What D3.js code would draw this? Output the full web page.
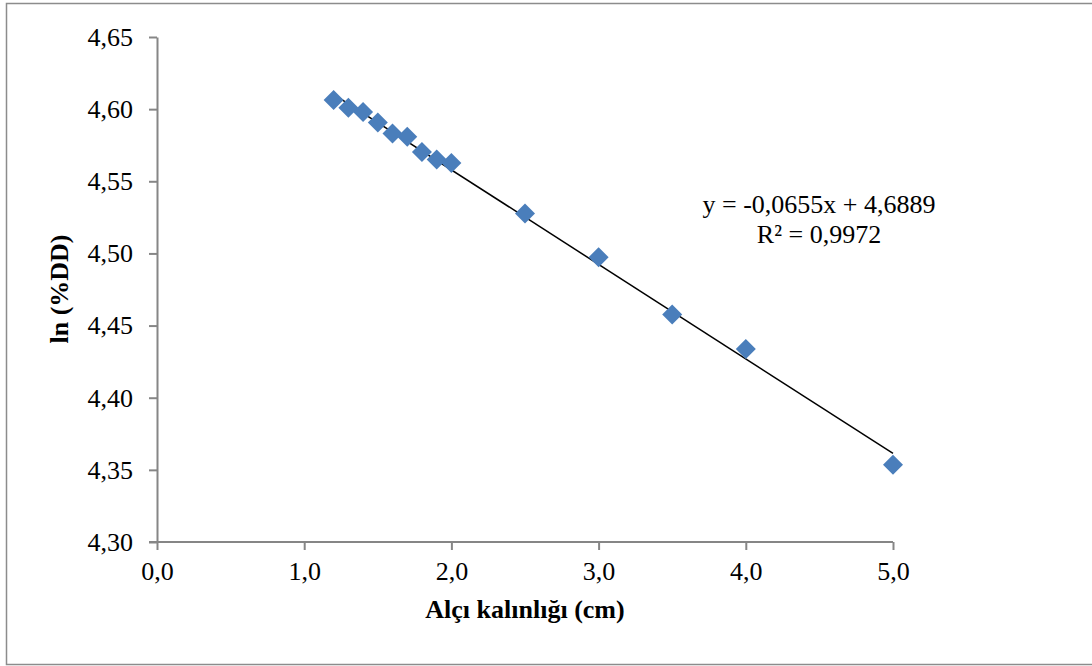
<!DOCTYPE html>
<html>
<head>
<meta charset="utf-8">
<script src="https://cdn.jsdelivr.net/npm/d3@7"></script>
<style>
  body { margin: 0; background: #fff; }
</style>
</head>
<body>
<svg width="1092" height="666"></svg>
<script>
// data
var thickness = [1.2, 1.3, 1.4, 1.5, 1.6, 1.7, 1.8, 1.9, 2.0, 2.5, 3.0, 3.5, 4.0, 5.0];
var lnDD = [4.6063, 4.6009, 4.5981, 4.5908, 4.5831, 4.5808, 4.5703, 4.5651, 4.5627,
            4.5276, 4.4974, 4.4576, 4.4338, 4.3535];
var xTicks = [0, 1, 2, 3, 4, 5];
var yTicks = [4.30, 4.35, 4.40, 4.45, 4.50, 4.55, 4.60, 4.65];
var slope = -0.0655, intercept = 4.6889, r2 = 0.9972;

var serif = '"Liberation Serif", "Times New Roman", serif';
var svg = d3.select("svg");

// outer chart border
svg.append("rect")
  .attr("x", 6.5).attr("y", 3.5)
  .attr("width", 1100).attr("height", 661)
  .attr("fill", "none")
  .attr("stroke", "#8c8c8c")
  .attr("stroke-width", 1.5);

var xScale = d3.scaleLinear().domain([0, 5]).range([157, 893]);
var yScale = d3.scaleLinear().domain([4.30, 4.65]).range([542, 37]);

var comma = function (f) { return function (d) { return d3.format(f)(d).replace(".", ","); }; };

var xAxis = svg.append("g")
  .attr("transform", "translate(0," + yScale(4.30) + ")")
  .call(d3.axisBottom(xScale).tickValues(xTicks).tickFormat(comma(".1f")).tickSize(8).tickSizeOuter(0).tickPadding(12));

var yAxis = svg.append("g")
  .attr("transform", "translate(" + xScale(0) + ",0)")
  .call(d3.axisLeft(yScale).tickValues(yTicks).tickFormat(comma(".2f")).tickSize(8).tickSizeOuter(0).tickPadding(16));

svg.selectAll(".tick text")
  .style("font-family", serif)
  .style("font-size", "26px")
  .attr("fill", "#000");
svg.selectAll(".domain, .tick line").attr("stroke", "#868686").attr("stroke-width", 2);
xAxis.select(".domain").attr("d", "M" + (xScale(0) - 8) + ",0H" + xScale(5));

// trendline over data range
var x0 = d3.min(thickness), x1 = d3.max(thickness);
svg.append("line")
  .attr("x1", xScale(x0)).attr("y1", yScale(slope * x0 + intercept))
  .attr("x2", xScale(x1)).attr("y2", yScale(slope * x1 + intercept))
  .attr("stroke", "#000")
  .attr("stroke-width", 1.5);

// diamond markers
svg.selectAll("path.pt")
  .data(thickness)
  .enter()
  .append("path")
  .attr("class", "pt")
  .attr("d", "M0,-10L10,0L0,10L-10,0Z")
  .attr("transform", function (d, i) {
    return "translate(" + xScale(d) + "," + yScale(lnDD[i]) + ")";
  })
  .attr("fill", "#4a7ebb");

// equation label
var eq = svg.append("text")
  .attr("x", 819).attr("y", 213)
  .attr("text-anchor", "middle")
  .style("font-family", serif)
  .style("font-size", "26px");
eq.append("tspan").attr("x", 819).text("y = " + String(slope).replace(".", ",") + "x + " + String(intercept).replace(".", ","));
eq.append("tspan").attr("x", 819).attr("dy", 30).text("R² = " + String(r2).replace(".", ","));

// axis titles
svg.append("text")
  .attr("x", 525).attr("y", 618)
  .attr("text-anchor", "middle")
  .style("font-family", serif)
  .style("font-size", "26px")
  .style("font-weight", "bold")
  .text("Alçı kalınlığı (cm)");

svg.append("text")
  .attr("transform", "translate(68,289) rotate(-90)")
  .attr("text-anchor", "middle")
  .style("font-family", serif)
  .style("font-size", "26px")
  .style("font-weight", "bold")
  .text("ln (%DD)");
</script>
</body>
</html>
